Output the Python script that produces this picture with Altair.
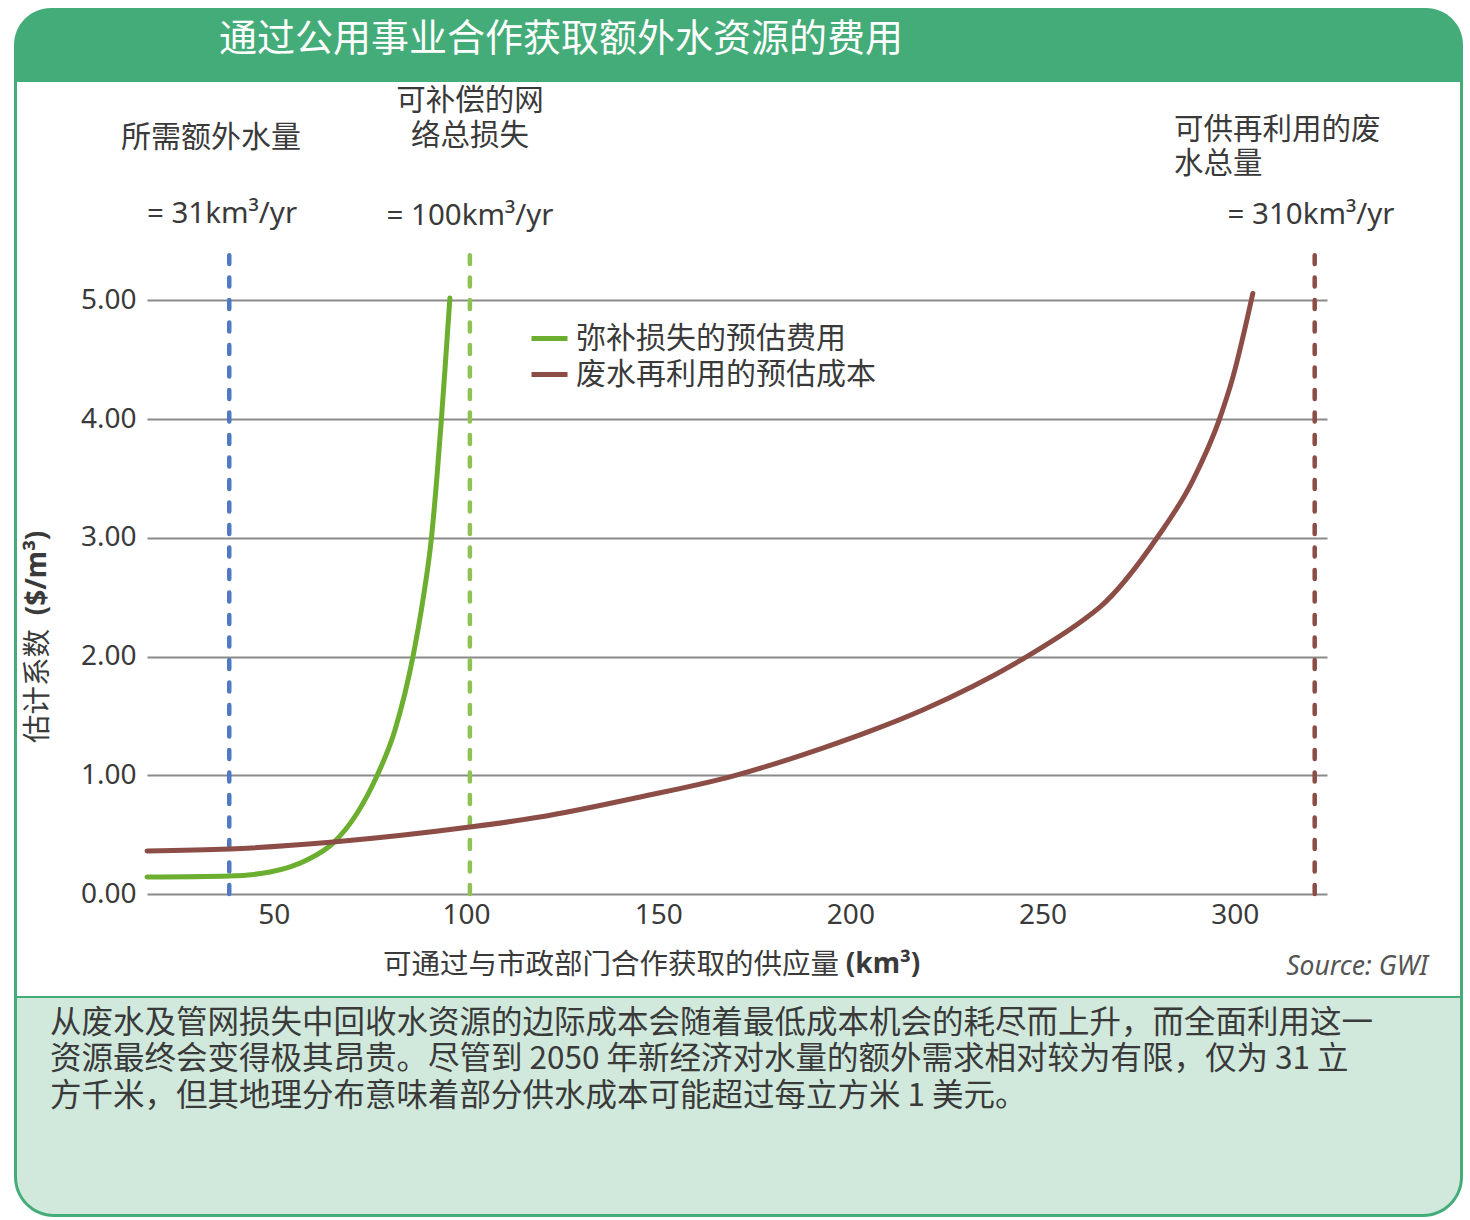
import altair as alt
import pandas as pd

# ---------------- data ----------------
green_x = [17.0, 38.4, 49.0, 58.6, 65.4, 71.7, 76.9, 81.5, 86.2, 88.9, 91.0, 92.4, 93.6, 94.8, 95.8]
green_y = [0.143, 0.152, 0.185, 0.286, 0.429, 0.682, 1.0, 1.38, 2.0, 2.5, 3.0, 3.5, 4.0, 4.55, 5.02]
brown_x = [17.0, 38.4, 65.4, 101.0, 119.2, 145.3, 169.4, 192.8, 205.8, 218.8, 231.9, 245.9, 260.5, 264.9, 279.7, 289.1, 296.1, 299.5, 304.7]
brown_y = [0.362, 0.379, 0.438, 0.564, 0.648, 0.817, 0.993, 1.229, 1.380, 1.550, 1.750, 2.000, 2.306, 2.416, 2.997, 3.485, 4.007, 4.352, 5.059]
series_names = ["弥补损失的预估费用", "废水再利用的预估成本"]
series_colors = ["#6CAE2F", "#8C4D46"]
ref_x = [38.4, 101.0, 320.8]
ref_top = 5.38
ref_colors = ["#5079C4", "#8EC353", "#8C4D46"]
x_ticks = [50, 100, 150, 200, 250, 300]
y_ticks = [0, 1, 2, 3, 4, 5]

title_text = "通过公用事业合作获取额外水资源的费用"
ann1 = ["所需额外水量"]
ann2 = ["可补偿的网", "络总损失"]
ann3 = ["可供再利用的废", "水总量"]
amounts = ["= 31km³/yr", "= 100km³/yr", "= 310km³/yr"]
y_title = ["估计系数", "($/m³)"]
x_title = ["可通过与市政部门合作获取的供应量", "(km³)"]
source = "Source: GWI"
caption_lines = [
    "从废水及管网损失中回收水资源的边际成本会随着最低成本机会的耗尽而上升，而全面利用这一",
    "资源最终会变得极其昂贵。尽管到 2050 年新经济对水量的额外需求相对较为有限，仅为 31 立",
    "方千米，但其地理分布意味着部分供水成本可能超过每立方米 1 美元。",
]

# ---------------- styling ----------------
CJK = "Noto Sans CJK SC"
LAT = "'Noto Sans', 'Noto Sans CJK SC', sans-serif"
TXT = "#3a3a3a"
GREEN = "#44AC79"
PALE = "#D0E9DC"
OX, OY = 147, 253          # plot-area origin on the page
W, H = 1180, 641


def X(v):
    return v - OX


def Y(v):
    return v - OY


one = pd.DataFrame({"k": [0]})


def rect(x0, y0, x1, y1, color, **kw):
    return alt.Chart(one).mark_rect(color=color, **kw).encode(
        x=alt.value(X(x0)), x2=alt.value(X(x1)), y=alt.value(Y(y0)), y2=alt.value(Y(y1))
    )


def text(t, x, y, size, font=CJK, color=TXT, align="left", **kw):
    return alt.Chart(one).mark_text(
        text=t, align=align, baseline="middle", fontSize=size, font=font, color=color, **kw
    ).encode(x=alt.value(X(x)), y=alt.value(Y(y)))


# ---------------- frame ----------------
layers = []
layers.append(rect(0, 0, 1470, 1220, "white", opacity=0))
layers.append(rect(14, 8, 1463, 82, GREEN, cornerRadiusTopLeft=40, cornerRadiusTopRight=40))
layers.append(rect(14, 80, 17, 1000, GREEN))
layers.append(rect(1460, 80, 1463, 1000, GREEN))
layers.append(rect(14, 996, 1463, 1217, GREEN, cornerRadiusBottomLeft=40, cornerRadiusBottomRight=40))
layers.append(rect(17, 998, 1460, 1214, PALE, cornerRadiusBottomLeft=37, cornerRadiusBottomRight=37))

# ---------------- texts ----------------
layers.append(text(title_text, 219, 40, 38, color="white"))
layers.append(text(ann1[0], 211, 138, 30, align="center"))
layers.append(text(ann2[0], 470, 101, 29.5, align="center"))
layers.append(text(ann2[1], 470, 136, 29.5, align="center"))
layers.append(text(ann3[0], 1174, 130, 29.5))
layers.append(text(ann3[1], 1174, 164, 29.5))
layers.append(text(amounts[0], 222, 214, 29.5, font=LAT, align="center"))
layers.append(text(amounts[1], 470, 216, 29.5, font=LAT, align="center"))
layers.append(text(amounts[2], 1311, 215, 29.5, font=LAT, align="center"))
layers.append(text(y_title[0], 38, 686, 28.5, angle=270, align="center"))
layers.append(text(y_title[1], 38, 573, 28, font=LAT, angle=270, align="center", fontWeight="bold"))
layers.append(text(x_title[0], 611, 965, 28.5, align="center"))
layers.append(text(x_title[1], 883, 965, 28, font=LAT, align="center", fontWeight="bold"))
layers.append(text(source, 1428, 967, 26.5, font=LAT, color="#555555", align="right", fontStyle="italic"))
for line, yy in zip(caption_lines, [1024, 1060, 1097]):
    layers.append(text(line, 50, yy, 31.5))

# ---------------- data marks ----------------
xs = alt.Scale(domain=[17, 324], nice=False, zero=False)
ys = alt.Scale(domain=[0, 5.4], nice=False)

ref_df = pd.DataFrame({"x": ref_x, "y0": [0] * 3, "y1": [ref_top] * 3, "c": ref_colors})
rules = alt.Chart(ref_df).mark_rule(strokeDash=[9, 13.5], strokeWidth=4.5, strokeCap="round").encode(
    x=alt.X("x:Q", scale=xs),
    y=alt.Y("y0:Q", scale=ys),
    y2="y1:Q",
    color=alt.Color("c:N", scale=None),
)

curve_df = pd.DataFrame({
    "x": green_x + brown_x,
    "y": green_y + brown_y,
    "s": [series_names[0]] * len(green_x) + [series_names[1]] * len(brown_x),
})
lines = alt.Chart(curve_df).mark_line(strokeWidth=5, interpolate="monotone", strokeCap="round").encode(
    x=alt.X("x:Q", scale=xs, axis=alt.Axis(values=x_ticks, title=None, grid=False, ticks=False,
                                           domain=False, labelPadding=7, labelFontSize=28,
                                           labelFont=LAT, labelColor=TXT)),
    y=alt.Y("y:Q", scale=ys, axis=alt.Axis(values=y_ticks, format=".2f", title=None, grid=True,
                                           gridColor="#8A8A8A", gridWidth=2, ticks=False,
                                           domain=False, labelPadding=11, labelFontSize=28,
                                           labelFont=LAT, labelColor=TXT)),
    color=alt.Color("s:N", scale=alt.Scale(domain=series_names, range=series_colors),
                    legend=alt.Legend(orient="none", legendX=382, legendY=65, title=None,
                                      symbolType="stroke", symbolSize=1296, symbolStrokeWidth=5,
                                      labelFontSize=30, labelFont=CJK, labelColor=TXT,
                                      labelLimit=0, labelOffset=6, rowPadding=0, padding=0)),
)

layers.append(rules)
layers.append(lines)

chart = alt.layer(*layers).properties(width=W, height=H, padding=0, background="white").configure_view(
    stroke=None
)

chart.save("out.html", embed_options={"renderer": "svg", "actions": False})
